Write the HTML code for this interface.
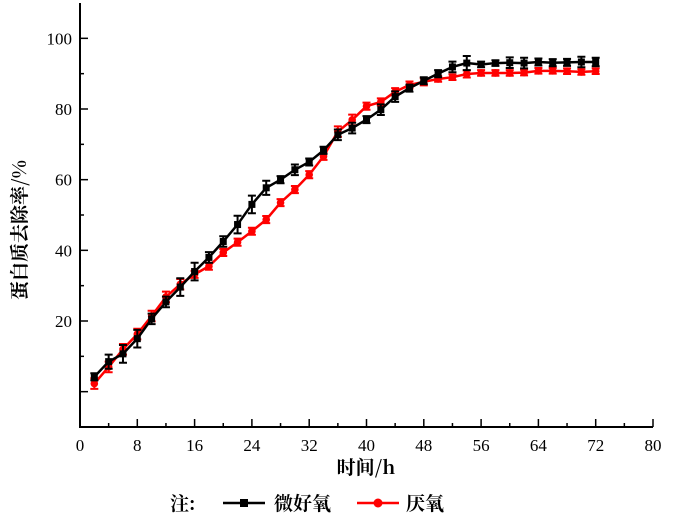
<!DOCTYPE html>
<html><head><meta charset="utf-8"><style>
html,body{margin:0;padding:0;background:#fff}
svg{display:block}
text{font-family:"Liberation Serif","Noto Serif CJK SC",serif}
</style></head><body>
<svg id="chart" width="700" height="521" viewBox="0 0 700 521">
<g id="axes"></g>
<g id="series"></g>
<text x="366" y="474" font-size="19" font-weight="bold" text-anchor="middle" style="font-family:'Noto Serif CJK SC',serif">时间/h</text>
<text transform="translate(26,230) rotate(-90)" font-size="19" font-weight="bold" text-anchor="middle" style="font-family:'Noto Serif CJK SC',serif">蛋白质去除率/%</text>
<g>
<text x="170" y="510" font-size="19" font-weight="bold" style="font-family:'Noto Serif CJK SC',serif">注:</text>
<g>
<line x1="223" y1="503" x2="265" y2="503" stroke="#000" stroke-width="2.5"/>
<rect x="240" y="499" width="8" height="8" fill="#000"/>
<text x="274" y="510" font-size="19" font-weight="bold" style="font-family:'Noto Serif CJK SC',serif">微好氧</text>
</g>
<g>
<line x1="357" y1="503" x2="399" y2="503" stroke="#f00" stroke-width="2.5"/>
<circle cx="378" cy="503" r="4.5" fill="#f00"/>
<text x="406" y="510" font-size="19" font-weight="bold" style="font-family:'Noto Serif CJK SC',serif">厌氧</text>
</g>
</g>
</svg>
<script>
const hours=[2,4,6,8,10,12,14,16,18,20,22,24,26,28,30,32,34,36,38,40,42,44,46,48,50,52,54,56,58,60,62,64,66,68,70,72];
const microAerobic=[4.2,8.5,10.7,15,20.6,25.4,29.6,34,38,42.5,47.3,53,57.7,60,62.8,65,68.3,72.7,74.6,77,79.8,83.5,85.9,88,90,91.9,93,92.6,93,93.1,93,93.3,93.1,93.2,93.3,93.3];
const microErr=[1,2,2.5,2.5,1.5,1.5,2.5,2.5,1.5,1.5,2.5,2.5,2,1,1.5,1,1,1.5,1.5,1,1.5,1.5,1,1,1,1.5,2,0.8,0.8,1.5,1.5,1,1,1,1.5,1.2];
const anaerobic=[2.3,7,12,16.3,21.4,26.8,30.4,33.2,35.5,39.4,42.3,45.4,48.7,53.5,57.2,61.4,66.6,73.6,76.9,80.8,82,84.9,86.8,87.7,88.5,89,89.9,90.2,90.2,90.2,90.3,90.8,90.8,90.7,90.5,90.7];
const anaErr=[1.5,1.5,1.5,1.5,1.5,1.5,1.5,1,1,1,1,1,1,1,1,1,1,1.5,1.5,1,1,1,1,1,0.8,0.8,1,0.8,0.8,0.8,0.8,0.8,0.8,0.8,0.8,0.8];
const xTicks=[0,8,16,24,32,40,48,56,64,72,80];
const yTicks=[20,40,60,80,100];
const NS='http://www.w3.org/2000/svg';
const X0=80,X1=653,Y0=427,YTOP=3;
function sx(v){return X0+(v-0)/(80-0)*(X1-X0);}
function sy(v){return Y0-(v+10)/(120)*(Y0-YTOP);}
function mk(tag,attrs,parent){const e=document.createElementNS(NS,tag);for(const k in attrs)e.setAttribute(k,attrs[k]);parent.appendChild(e);return e;}
const axes=document.getElementById('axes');
const ax=mk('path',{d:`M${X0},${YTOP} V${Y0} H${X1}`,fill:'none',stroke:'#000','stroke-width':2},axes);


for(let v=0;v<=80;v+=4){
  const major=v%8===0;
  const t=mk('line',{x1:sx(v),x2:sx(v),y1:Y0,y2:Y0-(major?8:4),stroke:'#000','stroke-width':1.5},axes);
  
  
}
xTicks.forEach(v=>{
  const t=mk('text',{x:sx(v),y:Y0+24,'font-size':17,'text-anchor':'middle'},axes);
  t.textContent=v;
  
  
});
for(let v=0;v<=100;v+=10){
  const major=v%20===0;
  const t=mk('line',{x1:X0,x2:X0+(major?8:4),y1:sy(v),y2:sy(v),stroke:'#000','stroke-width':1.5},axes);
  
  
}
yTicks.forEach(v=>{
  const t=mk('text',{x:X0-8,y:sy(v)+6,'font-size':17,'text-anchor':'end'},axes);
  t.textContent=v;
  
  
});
const series=document.getElementById('series');
function draw(vals,errs,color,shape,name){
  const g=mk('g',{},series);
  
  
  const d=vals.map((v,i)=>(i?'L':'M')+sx(hours[i])+','+sy(v)).join(' ');
  mk('path',{d:d,fill:'none',stroke:color,'stroke-width':2.5},g);
  vals.forEach((v,i)=>{
    const x=sx(hours[i]),e=errs[i];
    mk('path',{d:`M${x},${sy(v+e)} V${sy(v-e)} M${x-4},${sy(v+e)} H${x+4} M${x-4},${sy(v-e)} H${x+4}`,stroke:color,'stroke-width':2,fill:'none'},g);
    let m;
    if(shape==='sq')m=mk('rect',{x:x-3.5,y:sy(v)-3.5,width:7,height:7,fill:color},g);
    else m=mk('circle',{cx:x,cy:sy(v),r:3.8,fill:color},g);
    
    
  });
}
draw(anaerobic,anaErr,'#f00','ci','anaerobic-series');
draw(microAerobic,microErr,'#000','sq','microaerobic-series');
</script>
</body></html>
